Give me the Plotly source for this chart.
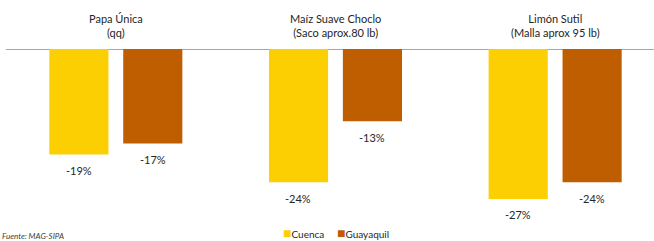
import plotly.graph_objects as go

categories = ["Papa Única<br>(qq)", "Maíz Suave Choclo<br>(Saco aprox.80 lb)", "Limón Sutil<br>(Malla aprox 95 lb)"]
cuenca = [-19, -24, -27]
guayaquil = [-17, -13, -24]
series_names = ["Cuenca", "Guayaquil"]
colors = ["#FCCF03", "#BF5E00"]

FONT = "Lato"
x = list(range(len(categories)))

fig = go.Figure()
for name, vals, col in zip(series_names, [cuenca, guayaquil], colors):
    fig.add_trace(go.Bar(x=x, y=vals, name=name, marker=dict(color=col, line=dict(width=0)),
                         hoverinfo="skip", showlegend=False))

annotations = []
for k, vals in enumerate([cuenca, guayaquil]):
    shift = -37 if k == 0 else 37
    for i, v in enumerate(vals):
        annotations.append(dict(x=i, y=v, xref="x", yref="y", text=f"{v}%", showarrow=False,
                                xshift=shift, yshift=-16, font=dict(family=FONT, size=11, color="#262626")))
for i, c in enumerate(categories):
    annotations.append(dict(x=i, y=1, xref="x", yref="paper", text=c, showarrow=False,
                            yanchor="bottom", yshift=8, font=dict(family=FONT, size=11, color="#262626")))
annotations.append(dict(x=-6/648, y=-0.118, xref="paper", yref="paper", text="<i>Fuente: MAG-SIPA</i>",
                        showarrow=False, xanchor="left", yanchor="top",
                        font=dict(family=FONT, size=8, color="#404040")))
# legend built as text with coloured squares
legend_x = [0.4245, 0.5078]
for name, col, lx in zip(series_names, colors, legend_x):
    annotations.append(dict(x=lx, y=-0.137, xref="paper", yref="paper",
                            text=f"<span style='color:{col};font-size:14px'>■</span>{name}", showarrow=False,
                            xanchor="left", yanchor="middle",
                            font=dict(family=FONT, size=10, color="#262626")))

fig.update_layout(
    width=654, height=241,
    margin=dict(l=6, r=0, t=49, b=31, autoexpand=False),
    paper_bgcolor="white", plot_bgcolor="white",
    barmode="group", bargap=0.327, bargroupgap=0.2,
    showlegend=False,
    xaxis=dict(range=[-0.5, 2.45], showticklabels=False, showgrid=False, zeroline=False, showline=False),
    yaxis=dict(range=[-29, 0], showticklabels=False, showgrid=False, zeroline=True,
               zerolinecolor="#A6A6A6", zerolinewidth=1, showline=False),
    annotations=annotations,
    font=dict(family=FONT),
)

fig.write_html("out.html", config={"displayModeBar": False},
               post_script="document.body.style.margin='0';document.body.style.overflow='hidden';")
